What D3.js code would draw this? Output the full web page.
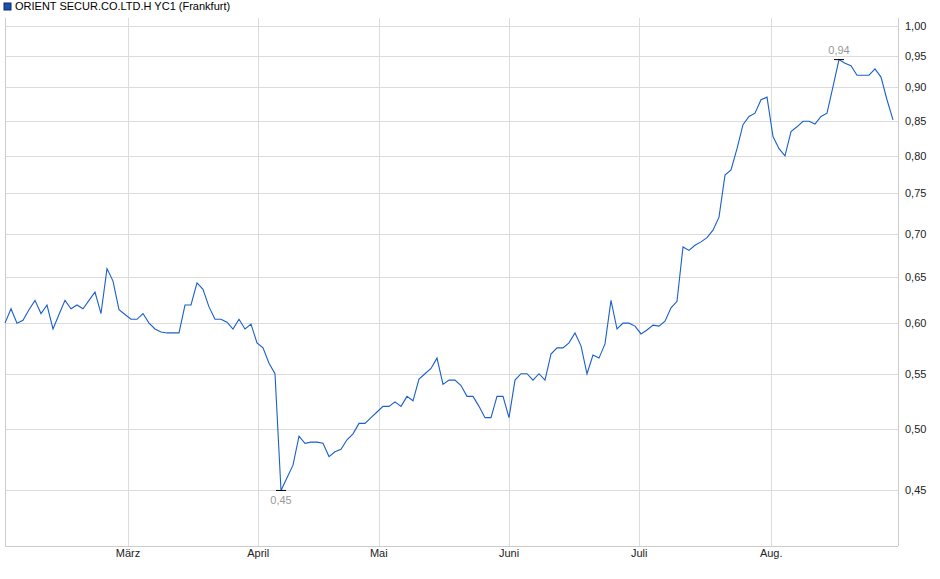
<!DOCTYPE html>
<html><head><meta charset="utf-8">
<script src="https://cdn.jsdelivr.net/npm/d3@7"></script>
<style>body{margin:0;background:#fff;font-family:"Liberation Sans",Arial,sans-serif}</style>
</head><body><svg id="c" width="940" height="579"></svg>
<script>
const title = "ORIENT SECUR.CO.LTD.H YC1 (Frankfurt)";
const values = [0.600,0.615,0.600,0.603,0.614,0.624,0.610,0.619,0.594,0.609,0.624,0.615,0.619,0.615,0.624,0.633,0.610,0.659,0.645,0.614,
0.609,0.604,0.604,0.610,0.600,0.594,0.591,0.590,0.590,0.590,0.619,0.619,0.643,0.636,0.617,0.604,0.604,0.601,0.594,0.604,
0.594,0.599,0.580,0.575,0.560,0.550,0.450,0.460,0.470,0.494,0.488,0.489,0.489,0.488,0.477,0.481,0.483,0.491,0.496,0.505,
0.505,0.510,0.515,0.520,0.520,0.524,0.520,0.529,0.525,0.545,0.550,0.555,0.565,0.540,0.544,0.544,0.539,0.529,0.529,0.520,
0.510,0.510,0.529,0.529,0.510,0.544,0.550,0.550,0.544,0.550,0.544,0.569,0.575,0.575,0.580,0.590,0.577,0.550,0.568,0.565,
0.579,0.624,0.594,0.600,0.600,0.597,0.589,0.593,0.598,0.597,0.602,0.616,0.623,0.684,0.680,0.686,0.690,0.695,0.704,0.720,
0.774,0.781,0.810,0.844,0.856,0.861,0.881,0.885,0.827,0.810,0.800,0.834,0.841,0.849,0.849,0.845,0.856,0.861,0.901,0.944,
0.938,0.934,0.919,0.919,0.919,0.929,0.916,0.881,0.851];
const monthLabels = ["März","April","Mai","Juni","Juli","Aug."];
const monthPos = [20.5,42.2,62.3,84.0,105.7,127.7];
const yTicks = [0.45,0.50,0.55,0.60,0.65,0.70,0.75,0.80,0.85,0.90,0.95,1.00];

const svg = d3.select("#c");
const L=5,R=898,T=18,B=546;
const x = d3.scaleLinear().domain([0,148]).range([L,893]);
const y = d3.scaleLog().domain([0.409,1.014]).range([B,T]);
const fmt = v => d3.format(".2f")(v).replace(".",",");

svg.append("rect").attr("x",4).attr("y",3).attr("width",7).attr("height",7).attr("fill","#1a4fb0").attr("stroke","#0b2a6a");
svg.append("text").attr("x",15).attr("y",10).attr("font-size",11).attr("fill","#000").text(title);

const g = svg.append("g");
g.selectAll(".hg").data(yTicks).join("line").attr("x1",L).attr("x2",R)
 .attr("y1",d=>Math.round(y(d))+0.5).attr("y2",d=>Math.round(y(d))+0.5).attr("stroke","#dcdcdc");
g.selectAll(".vg").data(monthPos).join("line").attr("y1",T).attr("y2",B)
 .attr("x1",d=>Math.round(x(d))+0.5).attr("x2",d=>Math.round(x(d))+0.5).attr("stroke","#dcdcdc");
svg.append("line").attr("x1",L+0.5).attr("x2",L+0.5).attr("y1",T).attr("y2",B).attr("stroke","#ccc");
svg.append("line").attr("x1",R+0.5).attr("x2",R+0.5).attr("y1",T).attr("y2",B).attr("stroke","#ccc");
svg.append("line").attr("x1",L).attr("x2",R).attr("y1",B+0.5).attr("y2",B+0.5).attr("stroke","#ccc");

svg.selectAll(".yl").data(yTicks).join("text").attr("x",905).attr("y",d=>y(d)+4)
 .attr("font-size",11).attr("fill","#222").text(fmt);
svg.selectAll(".xl").data(monthLabels).join("text").attr("x",(d,i)=>x(monthPos[i])).attr("y",557)
 .attr("text-anchor","middle").attr("font-size",11).attr("fill","#222").text(d=>d);

svg.append("path").datum(values).attr("fill","none").attr("stroke","#1a5fcc").attr("stroke-width",1.1)
 .attr("d",d3.line().x((d,i)=>x(i)).y(d=>y(d)));

const iMin = d3.minIndex(values), iMax = d3.maxIndex(values);
[[iMin,14],[iMax,-6]].forEach(([i,dy])=>{
  svg.append("line").attr("x1",x(i)-5).attr("x2",x(i)+5).attr("y1",y(values[i])).attr("y2",y(values[i])).attr("stroke","#000");
  svg.append("text").attr("x",x(i)).attr("y",y(values[i])+dy).attr("text-anchor","middle")
   .attr("font-size",11).attr("fill","#999").text(fmt(Math.round(values[i]*100)/100));
});
</script></body></html>
